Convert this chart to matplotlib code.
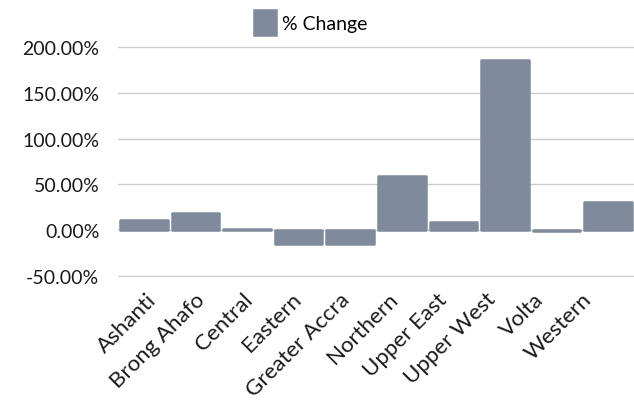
import numpy as np
import matplotlib.pyplot as plt
import matplotlib.transforms as mtransforms
from matplotlib.ticker import FuncFormatter

# data
regions = ["Ashanti", "Brong Ahafo", "Central", "Eastern", "Greater Accra",
           "Northern", "Upper East", "Upper West", "Volta", "Western"]
pct_change = [11.7, 19.4, 1.5, -14.5, -14.3, 58.7, 9.2, 185.7, -0.6, 31.4]
y_ticks = [-50, 0, 50, 100, 150, 200]

plt.rcParams['font.family'] = ['Lato', 'DejaVu Sans']

fig = plt.figure(figsize=(6.34, 4.06), dpi=100)
ax = fig.add_axes([118 / 634, 1 - 278 / 406, 1 - 118 / 634, (278 - 47) / 406])

x = np.arange(len(regions))
ax.bar(x, pct_change, width=0.92, color="#7f8a9c", edgecolor="#7f8a9c",
       linewidth=1.8, joinstyle="round", label="% Change", zorder=3)

ax.set_xlim(-0.5, len(regions) - 0.5)
ax.set_ylim(-50.6, 200.6)
ax.set_yticks(y_ticks)
ax.yaxis.set_major_formatter(FuncFormatter(lambda v, p: f"{v:.2f}%"))
ax.grid(axis="y", color="#cccccc", linewidth=1, zorder=0)
for s in ax.spines.values():
    s.set_visible(False)
ax.tick_params(axis="y", length=0, pad=13.5, labelsize=14, labelcolor="#1a1a1a")

# rotated category labels; in the original they sit on a slightly
# tighter pitch than the bars, so spread them a bit less
ax.set_xticks(x)
ax.set_xticklabels([])
ax.tick_params(axis="x", length=0)
trans = mtransforms.blended_transform_factory(ax.transData, ax.transAxes)
trans = trans + mtransforms.ScaledTranslation(0, -23 / 100, fig.dpi_scale_trans)
label_x = x * 0.9386 + 0.26
for lx, name in zip(label_x, regions):
    ax.text(lx, 0, name, transform=trans, rotation=45, ha="right",
            va="baseline", rotation_mode="anchor", fontsize=16,
            color="#1a1a1a")

fig.legend(loc="upper center", bbox_to_anchor=(0.49, 1.015), frameon=False,
           fontsize=14, handlelength=1.1, handleheight=1.6, handletextpad=0.3)

plt.savefig("out.png", dpi=100)
